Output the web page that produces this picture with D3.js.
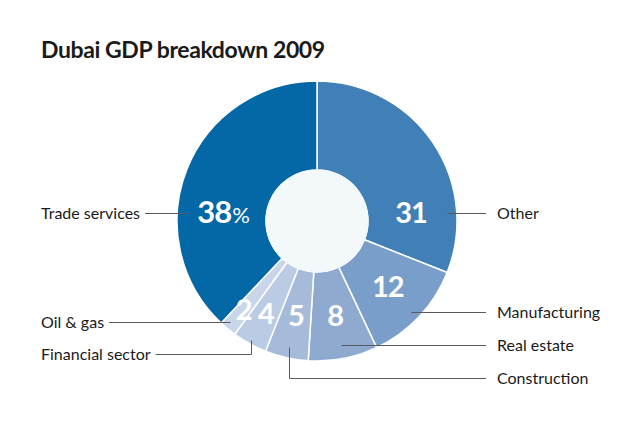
<!DOCTYPE html>
<html>
<head>
<meta charset="utf-8">
<script src="https://cdn.jsdelivr.net/npm/d3@7/dist/d3.min.js"></script>
<style>
  html, body { margin: 0; padding: 0; background: #ffffff; }
  svg { display: block; }
  text { font-family: Lato, "Open Sans", sans-serif; }
</style>
</head>
<body>
<svg id="chart" width="640" height="422"></svg>
<script>
// ---- data ----
const categories = ["Other", "Manufacturing", "Real estate", "Construction", "Financial sector", "Oil & gas", "Trade services"];
const values = [31, 12, 8, 5, 4, 2, 38];
const colors = ["#4180b6", "#789ec9", "#8eaad1", "#a6bbda", "#bccbe4", "#c9d5e9", "#0467a6"];
const title = "Dubai GDP breakdown 2009";

// ---- layout (not data) ----
const W = 640, H = 422;
const cx = 317, cy = 221, rOuter = 140, rInner = 51;
const leftX = 41, rightX = 497;
const labelRows = {
  "Other": ["right", 213],
  "Manufacturing": ["right", 312],
  "Real estate": ["right", 345],
  "Construction": ["right", 378],
  "Financial sector": ["left", 354],
  "Oil & gas": ["left", 322],
  "Trade services": ["left", 213]
};

const svg = d3.select("#chart");

svg.append("text")
  .attr("x", 41).attr("y", 58)
  .attr("font-size", 23).attr("font-weight", 700)
  .attr("letter-spacing", -0.4)
  .attr("fill", "#1a1a1a")
  .text(title);

const data = categories.map((c, i) => ({ cat: c, value: values[i], color: colors[i] }));

const pie = d3.pie().value(d => d.value).sort(null);
const arcs = pie(data);
const arc = d3.arc().innerRadius(rInner).outerRadius(rOuter);

const g = svg.append("g").attr("transform", `translate(${cx},${cy})`);

g.selectAll("path.slice").data(arcs).enter().append("path")
  .attr("class", "slice")
  .attr("d", arc)
  .attr("fill", d => d.data.color)
  .attr("stroke", "#ffffff")
  .attr("stroke-width", 1.5)
  .attr("stroke-linejoin", "round");

g.append("circle").attr("r", rInner + 0.5).attr("fill", "#f3f8fb");

// value labels
arcs.forEach(a => {
  const v = a.data.value;
  const mid = (a.startAngle + a.endAngle) / 2;
  let x, y;
  if (v >= 20) {
    const rowY = labelRows[a.data.cat][1] - cy;
    const side = Math.sin(mid) >= 0 ? 1 : -1;
    x = side * 94; y = rowY;
  } else {
    const lr = v >= 5 ? 97 : (v >= 4 ? 106 : 115);
    x = lr * Math.sin(mid); y = -lr * Math.cos(mid);
  }
  const t = g.append("text")
    .attr("x", x).attr("y", y + 10)
    .attr("text-anchor", "middle")
    .attr("fill", "#ffffff")
    .attr("font-weight", 700)
    .attr("letter-spacing", -1)
    .attr("font-size", 29);
  if (a.data.cat === "Trade services") {
    t.attr("font-size", 31);
    t.append("tspan").text(v);
    t.append("tspan").attr("font-size", 22).attr("font-weight", 400).attr("dx", 1).text("%");
  } else {
    t.text(v);
  }
});

// category labels with leader lines
arcs.forEach(a => {
  const [side, ly] = labelRows[a.data.cat];
  const mid = (a.startAngle + a.endAngle) / 2;
  const v = a.data.value;
  const rA = v >= 5 ? 129 : 136;
  let ax, ay;
  if (v >= 20) {
    ay = ly;
    const dy = ly - cy;
    ax = cx + (side === "right" ? 1 : -1) * Math.sqrt(130 * 130 - dy * dy);
  } else {
    ax = cx + rA * Math.sin(mid);
    ay = cy - rA * Math.cos(mid);
    if (Math.abs(ay - ly) < 10) ay = ly;
  }
  const label = svg.append("text")
    .attr("x", side === "right" ? rightX : leftX)
    .attr("y", ly + 6)
    .attr("font-size", 16)
    .attr("fill", "#1a1a1a")
    .text(a.data.cat);
  const tw = label.node().getComputedTextLength();
  const x0 = side === "right" ? rightX - 11 : leftX + tw + 5;
  const path = d3.path();
  path.moveTo(x0, Math.round(ly) + 0.5);
  path.lineTo(Math.round(ax) + 0.5, Math.round(ly) + 0.5);
  path.lineTo(Math.round(ax) + 0.5, Math.round(ay) + 0.5);
  svg.append("path")
    .attr("d", path.toString())
    .attr("fill", "none")
    .attr("stroke", "#5a5a5a")
    .attr("stroke-width", 1);
});
</script>
</body>
</html>
